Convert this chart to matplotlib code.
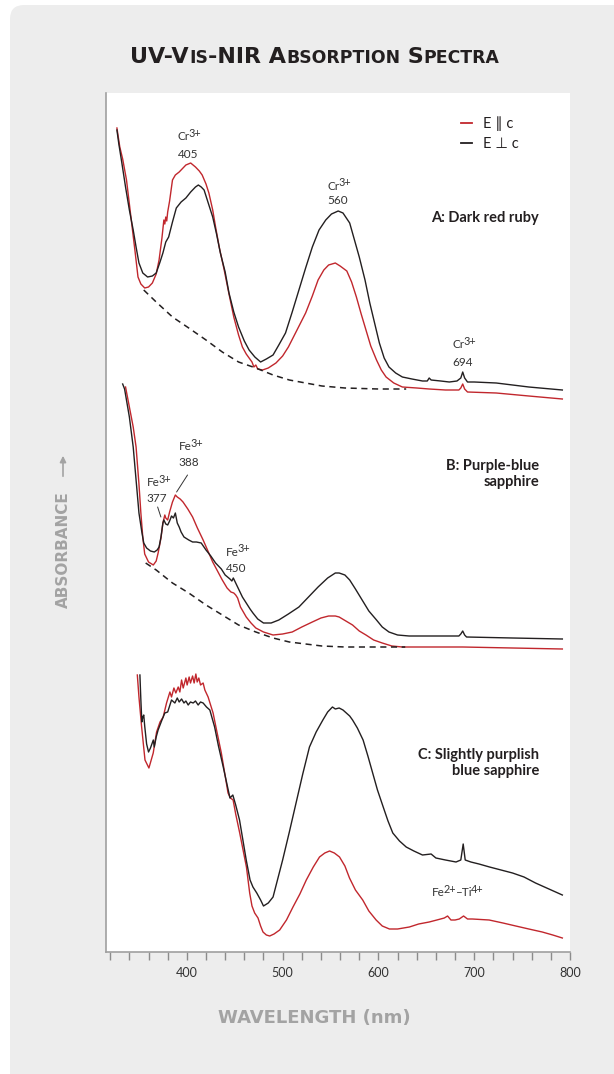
import matplotlib
matplotlib.use('Agg')
import matplotlib.pyplot as plt
from matplotlib.patches import FancyBboxPatch, FancyArrowPatch
from matplotlib.offsetbox import TextArea, HPacker, AnnotationBbox
from matplotlib.lines import Line2D

plt.rcParams['font.family'] = ['Lato', 'DejaVu Sans']

RED = '#c1272d'
BLK = '#231f20'
GRAY = '#a3a3a3'
TXT = '#333333'

# ---------------- data (wavelength nm, offset absorbance, arbitrary units) ----------------
# A: Dark red ruby
a_perp_nm = [327, 329, 332, 336, 340, 344, 347, 350, 354, 359, 364, 368, 372, 375, 378, 381, 385, 389, 394, 399,
             404, 409, 412, 415, 418, 422, 427, 431, 435, 440, 444, 449, 454, 460, 465, 471, 477, 483, 490, 496,
             503, 510, 517, 524, 531, 538, 545, 551, 558, 563, 570, 575, 580, 586, 591, 596, 601, 606, 611, 618,
             625, 635, 646, 651, 653, 655, 665, 674, 682, 686, 688, 690, 693, 700, 723, 757, 792]
a_perp_abs = [822, 808, 790, 765, 742, 722, 705, 689, 679, 675, 676, 679, 690, 699, 710, 715, 730, 744, 750, 754,
              760, 765, 767, 765, 762, 750, 735, 718, 699, 680, 659, 640, 625, 611, 602, 595, 590, 593, 597, 607,
              619, 640, 662, 684, 705, 722, 732, 738, 741, 739, 729, 712, 695, 672, 649, 629, 609, 594, 585, 579,
              575, 573, 571, 571, 574, 572, 571, 570, 571, 574, 580, 574, 570, 570, 569, 565, 562]
a_par_nm = [327, 330, 333, 337, 340, 343, 346, 349, 352, 356, 360, 364, 368, 371, 374, 376, 377, 378, 379, 380,
            382, 385, 388, 392, 396, 399, 404, 409, 413, 416, 420, 423, 427, 430, 434, 439, 444, 449, 454, 458,
            462, 465, 468, 470, 472, 474, 479, 485, 493, 500, 506, 515, 524, 531, 537, 543, 548, 555, 560, 567,
            572, 577, 582, 587, 592, 598, 603, 608, 616, 625, 640, 653, 670, 684, 686, 688, 690, 693, 723, 757, 792]
a_par_abs = [824, 805, 793, 772, 748, 724, 700, 675, 668, 664, 665, 669, 678, 692, 714, 732, 728, 735, 731, 740,
             751, 772, 777, 780, 784, 787, 789, 785, 781, 777, 768, 759, 742, 725, 704, 682, 658, 635, 617, 605,
             598, 594, 590, 585, 587, 583, 582, 584, 589, 596, 605, 622, 639, 656, 672, 682, 687, 689, 686, 681,
             670, 655, 638, 622, 606, 592, 582, 575, 569, 565, 564, 563, 562, 562, 564, 568, 563, 560, 559, 556, 553]
a_base_nm = [355, 368, 385, 402, 420, 437, 454, 472, 490, 507, 524, 541, 565, 600, 629]
a_base_abs = [662, 650, 635, 624, 612, 600, 590, 584, 577, 572, 569, 566, 564, 563, 563]

# B: Purple-blue sapphire
b_perp_nm = [333, 335, 340, 344, 347, 350, 353, 355, 358, 362, 366, 369, 371, 373, 375, 376, 378, 380, 382, 384,
             386, 388, 390, 392, 394, 397, 402, 406, 410, 415, 420, 425, 430, 436, 440, 445, 447, 448.5, 453, 458,
             462, 466, 469, 474, 480, 488, 496, 506, 517, 527, 537, 547, 555, 559, 565, 570, 576, 583, 590, 598,
             604, 611, 620, 632, 660, 684, 686, 688, 690, 692, 740, 792]
b_perp_abs = [568, 563, 535, 505, 472, 439, 420, 409, 404, 401, 400, 402, 405, 415, 429, 432, 428, 427, 431, 436,
              434, 439, 429, 425, 420, 415, 412, 410, 410, 409, 402, 396, 389, 383, 377, 373, 371, 374, 365, 355,
              349, 343, 339, 333, 329, 329, 332, 338, 345, 355, 365, 374, 379, 379, 377, 372, 363, 352, 341, 332,
              325, 320, 317, 316, 316, 316, 318, 321, 317, 315, 314, 313]
b_par_nm = [336, 340, 344, 347, 350, 352, 354, 356, 360, 365, 368, 370, 373, 375, 377, 378, 380, 382, 385, 388,
            390, 393, 396, 401, 406, 411, 417, 422, 427, 432, 437, 442, 446, 449, 451, 453, 456, 462, 467, 472,
            480, 490, 500, 510, 520, 531, 540, 548, 555, 559, 566, 573, 580, 587, 595, 604, 614, 625, 650, 688,
            740, 792]
b_par_abs = [565, 545, 525, 505, 468, 439, 415, 398, 390, 387, 391, 399, 414, 429, 437, 434, 432, 440, 450, 457,
             455, 453, 450, 443, 435, 424, 412, 401, 390, 381, 372, 364, 360, 359, 357, 354, 345, 335, 329, 324,
             320, 317, 318, 320, 325, 330, 334, 336, 336, 335, 331, 327, 321, 317, 312, 309, 306, 305, 305, 305,
             304, 303]
b_base_nm = [357, 368, 385, 402, 420, 437, 454, 472, 490, 507, 524, 541, 565, 600, 628]
b_base_abs = [389, 382, 369, 359, 347, 337, 327, 320, 314, 310, 308, 306, 305, 305, 305]

# C: Slightly purplish blue sapphire
c_perp_nm = [351, 352, 353, 354, 355, 356, 358, 360, 362, 365, 366, 368, 370, 374, 377, 380, 384, 387.5, 390, 392,
             394.5, 397, 399, 401.4, 403.8, 406.6, 409, 411.8, 414.3, 417, 420.5, 424, 429, 433, 438, 445, 448, 451,
             455, 462, 466, 469, 473, 477, 480, 485, 490, 500, 507, 514, 521, 528, 535, 542, 547, 552, 555, 559,
             563, 570, 573, 578, 584, 589, 594, 599, 605, 610, 615, 622, 629, 637, 646, 655, 660, 670, 681, 686,
             688.5, 690.6, 696.5, 705, 716, 728, 740, 752, 764, 778, 792]
c_perp_abs = [277, 252, 230, 235, 237, 226, 208, 200, 204, 212, 205, 215, 222, 232, 239, 240, 252, 249, 254, 250,
              253, 249, 251, 247, 250, 249, 251, 247, 250, 249, 245, 242, 225, 206, 185, 154, 157, 147,
              132, 92, 72, 65, 59, 52, 46, 49, 55, 92, 120, 149, 178, 205, 220, 232, 240, 245, 243, 244,
              242, 236, 232, 224, 212, 196, 179, 162, 145, 131, 119, 111, 105, 101, 97, 98, 94, 92, 90, 92,
              108, 92, 90, 88, 85, 82, 79, 75, 69, 63, 57]
c_par_nm = [348.3, 350, 352.8, 356.3, 360.4, 364.9, 368.4, 372, 375.3, 378.8, 382.3, 384, 386.5, 388.5, 391, 392.7,
            394.5, 396.2, 399, 400.3, 402.4, 403.8, 406, 407.6, 409.4, 410.8, 412.5, 414.3, 417, 418.8, 422.2,
            427.4, 431, 436, 443, 445.5, 448.3, 451, 455.2, 462.2, 465.6, 468, 470.8, 474.3, 477, 479.5, 483,
            486.5, 491, 496.9, 504, 510.8, 518, 524.7, 532, 538.5, 544, 549, 554, 559.4, 565, 569.8, 576, 583.6,
            590, 597.6, 604, 611.5, 620, 632.3, 642, 653, 661, 668.8, 672.2, 675.7, 680, 684.4, 688.9, 693, 698,
            715.6, 730, 743.4, 757, 771, 782, 792]
c_par_abs = [277, 255, 225, 192, 184, 199, 220, 230, 235, 249, 260, 255, 264, 259, 265, 260,
             272, 264, 274, 267, 275, 269, 276, 269, 278, 270, 274, 267, 269, 262, 255,
             239, 222, 199, 159, 154, 152, 138, 119, 85, 59, 46, 39, 34, 26, 20, 17,
             16, 18, 22, 32, 45, 58, 72, 85, 95, 99, 101, 99, 95, 86, 74, 62, 52,
             41, 32, 26, 23, 23, 25, 28, 30, 32, 34, 36, 32, 32, 33, 36, 33, 33,
             32, 29, 26, 23, 20, 17, 14]

x_major = [400, 500, 600, 700, 800]
x_minor = list(range(320, 801, 20))

# ---------------- figure ----------------
fig = plt.figure(figsize=(6.14, 10.74), dpi=100, facecolor='white')
card = FancyBboxPatch((0.10, -0.3), 6.4, 10.99, boxstyle='round,pad=0,rounding_size=0.14',
                      transform=fig.dpi_scale_trans, facecolor='#ededed', edgecolor='none', zorder=-5)
fig.add_artist(card)

ax = fig.add_axes([106 / 614, 1 - 952 / 1074, 464 / 614, 859 / 1074])
ax.set_facecolor('white')
ax.set_xlim(315.6, 800)
ax.set_ylim(0, 859)
for s in ['top', 'right']:
    ax.spines[s].set_visible(False)
for s in ['left', 'bottom']:
    ax.spines[s].set_color('#a0a0a0')
    ax.spines[s].set_linewidth(1.2)
ax.set_yticks([])
ax.set_xticks(x_major)
ax.set_xticks(x_minor, minor=True)
ax.tick_params(axis='x', which='both', direction='out', length=6, width=1, color='#8c8c8c',
               labelsize=9, labelcolor=TXT, pad=5)

lw = 1.0
ax.plot(a_par_nm, a_par_abs, color=RED, lw=lw)
ax.plot(a_perp_nm, a_perp_abs, color=BLK, lw=lw)
ax.plot(a_base_nm, a_base_abs, color=BLK, lw=1.1, ls=(0, (4, 3)))
ax.plot(b_par_nm, b_par_abs, color=RED, lw=lw)
ax.plot(b_perp_nm, b_perp_abs, color=BLK, lw=lw)
ax.plot(b_base_nm, b_base_abs, color=BLK, lw=1.1, ls=(0, (4, 3)))
ax.plot(c_par_nm, c_par_abs, color=RED, lw=lw)
ax.plot(c_perp_nm, c_perp_abs, color=BLK, lw=lw)

# legend
handles = [Line2D([], [], color=RED, lw=1.3), Line2D([], [], color=BLK, lw=1.3)]
ax.legend(handles, ['E \u2225 c', 'E \u22a5 c'], loc='upper left',
          bbox_to_anchor=((461 - 106) / 464, 1 - (116 - 93) / 859), frameon=False,
          handlelength=0.75, handletextpad=0.75, fontsize=10.5, labelspacing=0.45,
          borderpad=0, borderaxespad=0, labelcolor=BLK)

# annotations
FS = 8.5
SFS = 7.8
ann = dict(fontsize=FS, color=TXT, ha='left', va='center')


def sup_after(artist, s):
    return ax.annotate(s, xy=(1, 0.32), xycoords=artist, xytext=(-0.9, 0), textcoords='offset points',
                       fontsize=SFS, color=TXT, ha='left', va='bottom')


def ion(x, y1, y2, sym, charge, num):
    t = ax.text(x, y1, sym, **ann)
    sup_after(t, charge)
    ax.text(x, y2, num, **ann)


ion(390.6, 815, 798, 'Cr', '3+', '405')
ion(546.9, 766, 752, 'Cr', '3+', '560')
ion(677.0, 607, 590, 'Cr', '3+', '694')
ion(391.4, 505, 489, 'Fe', '3+', '388')
ion(358.0, 469, 453, 'Fe', '3+', '377')
ion(440.6, 400, 384, 'Fe', '3+', '450')

t_fe = ax.text(656.3, 59, 'Fe', **ann)
s_fe = sup_after(t_fe, '2+')
t_ti = ax.annotate('\u2013Ti', xy=(1, 0.5), xycoords=(s_fe, t_fe), xytext=(-0.6, 0),
                   textcoords='offset points', fontsize=FS, color=TXT, ha='left', va='center')
sup_after(t_ti, '4+')

ax.annotate('', xy=(389.3, 460), xytext=(400.7, 477),
            arrowprops=dict(arrowstyle='-', lw=0.7, color=TXT, shrinkA=0, shrinkB=0))
ax.annotate('', xy=(372.9, 435), xytext=(369.5, 445),
            arrowprops=dict(arrowstyle='-', lw=0.7, color=TXT, shrinkA=0, shrinkB=0))

lab = dict(fontsize=10.5, fontweight='bold', color=BLK, ha='right', va='center',
           multialignment='right', linespacing=1.25)
ax.text(767.7, 734, 'A: Dark red ruby', **lab)
ax.text(767.7, 478, 'B: Purple-blue\nsapphire', **lab)
ax.text(767.7, 189, 'C: Slightly purplish\nblue sapphire', **lab)

# title in small caps
big = dict(fontsize=16, fontweight='bold', color=BLK, family='DejaVu Sans')
small = dict(fontsize=12.4, fontweight='bold', color=BLK, family='DejaVu Sans')
pieces = [('UV-V', big), ('IS', small), ('-NIR A', big), ('BSORPTION', small), (' S', big), ('PECTRA', small)]
pack = HPacker(children=[TextArea(t, textprops=p) for t, p in pieces], align='baseline', pad=0, sep=0)
fig.add_artist(AnnotationBbox(pack, (315 / 614, 1 - 57 / 1074), xycoords='figure fraction',
                              frameon=False, box_alignment=(0.5, 0.5), pad=0))

# axis titles
fig.text(314 / 614, 1 - 1018 / 1074, 'WAVELENGTH (nm)', fontsize=13, fontweight='bold', color=GRAY,
         ha='center', va='center', family='DejaVu Sans')
fig.text(63 / 614, 1 - 550 / 1074, 'ABSORBANCE', fontsize=11, fontweight='bold', color=GRAY,
         ha='center', va='center', rotation=90, family='DejaVu Sans')
fig.add_artist(FancyArrowPatch((63 / 614, 1 - 479 / 1074), (63 / 614, 1 - 453 / 1074),
                               transform=fig.transFigure, arrowstyle='-|>', mutation_scale=9,
                               color=GRAY, lw=1.2))

fig.savefig('out.png', dpi=100, facecolor='white')
